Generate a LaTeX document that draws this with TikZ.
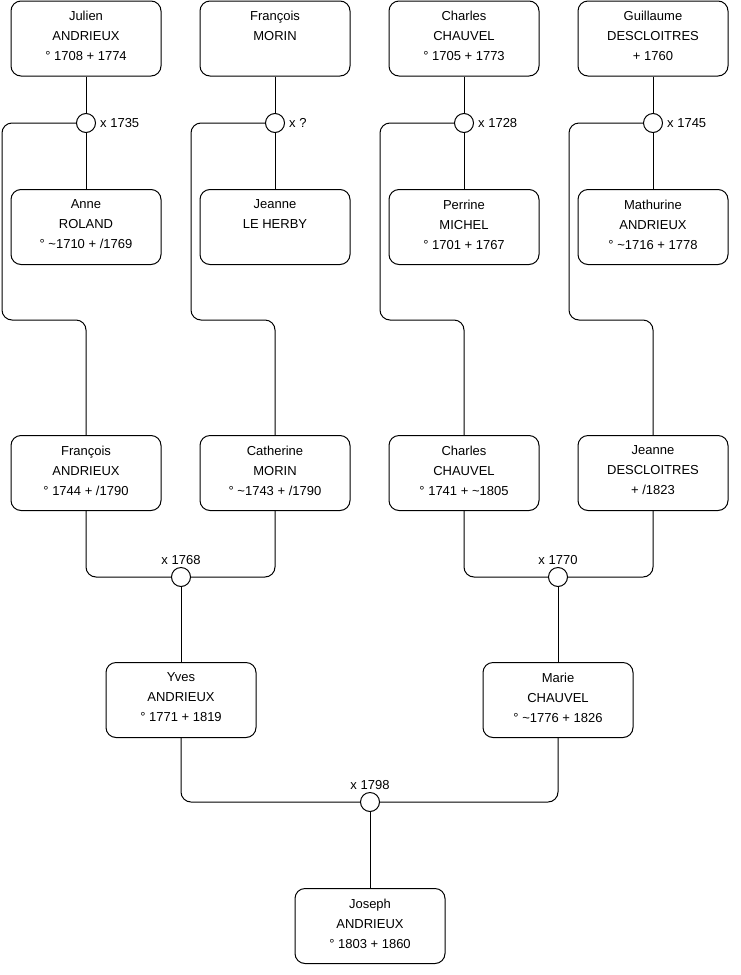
\documentclass[tikz,border=0pt]{standalone}
\usepackage{fontspec}
\setmainfont{Liberation Sans}
\usetikzlibrary{positioning}

\begin{document}
\begin{tikzpicture}[
    x=1pt, y=-1pt,
    every node/.style={font=\fontsize{13}{20}\selectfont},
    person/.style={draw, rounded corners=10pt, line width=1pt, fill=white,
                   minimum width=150pt, minimum height=75pt, align=center,
                   inner sep=0pt, text depth=5pt},
    wed/.style={draw, circle, line width=1pt, fill=white, minimum size=19pt, inner sep=0pt},
    wedlbl/.style={inner sep=1pt},
    link/.style={line width=1pt, rounded corners=10pt},
]
\useasboundingbox (0,0) rectangle (740,975);

% grandparents' parents
\node[person] (julien)    at (86,38.5)  {Julien\\ANDRIEUX\\° 1708 + 1774};
\node[person] (francoisM) at (275,38.5) {François\\MORIN\\\mbox{}};
\node[person] (charlesC)  at (464,38.5) {Charles\\CHAUVEL\\° 1705 + 1773};
\node[person] (guillaume) at (653,38.5) {Guillaume\\DESCLOITRES\\+ 1760};

\node[person] (anne)      at (86,227)  {Anne\\ROLAND\\° \textasciitilde1710 + /1769};
\node[person] (jeanneLH)  at (275,227) {Jeanne\\LE HERBY\\\mbox{}};
\node[person] (perrine)   at (464,227) {Perrine\\MICHEL\\° 1701 + 1767};
\node[person] (mathurine) at (653,227) {Mathurine\\ANDRIEUX\\° \textasciitilde1716 + 1778};

\node[wed] (m1735) at (86,123)  {};
\node[wed] (m1q)   at (275,123) {};
\node[wed] (m1728) at (464,123) {};
\node[wed] (m1745) at (653,123) {};
\node[wedlbl, right=3pt of m1735] (t1735) {x 1735};
\node[wedlbl, right=3pt of m1q]   (tq)    {x ?};
\node[wedlbl, right=3pt of m1728] (t1728) {x 1728};
\node[wedlbl, right=3pt of m1745] (t1745) {x 1745};

% grandparents
\node[person] (francois)  at (86,473)  {François\\ANDRIEUX\\° 1744 + /1790};
\node[person] (catherine) at (275,473) {Catherine\\MORIN\\° \textasciitilde1743 + /1790};
\node[person] (charles)   at (464,473) {Charles\\CHAUVEL\\° 1741 + \textasciitilde1805};
\node[person] (jeanne)    at (653,473) {Jeanne\\DESCLOITRES\\+ /1823};

\node[wed] (m1768) at (181,577) {};
\node[wed] (m1770) at (558,577) {};
\node[wedlbl, above=1pt of m1768] (t1768) {x 1768};
\node[wedlbl, above=1pt of m1770] (t1770) {x 1770};

% parents
\node[person] (yves)  at (181,700) {Yves\\ANDRIEUX\\° 1771 + 1819};
\node[person] (marie) at (558,700) {Marie\\CHAUVEL\\° \textasciitilde1776 + 1826};

\node[wed] (m1798) at (370,802) {};
\node[wedlbl, above=1pt of m1798] (t1798) {x 1798};

\node[person] (joseph) at (370,926) {Joseph\\ANDRIEUX\\° 1803 + 1860};

% links
\begin{scope}[on background layer/.try]
\draw[link] (julien) -- (m1735) -- (anne);
\draw[link] (francoisM) -- (m1q) -- (jeanneLH);
\draw[link] (charlesC) -- (m1728) -- (perrine);
\draw[link] (guillaume) -- (m1745) -- (mathurine);

\draw[link] (m1735.west) -| (2,320) -| (francois.north);
\draw[link] (m1q.west) -| (191,320) -| (catherine.north);
\draw[link] (m1728.west) -| (380,320) -| (charles.north);
\draw[link] (m1745.west) -| (569,320) -| (jeanne.north);

\draw[link] (francois.south) |- (m1768.west);
\draw[link] (catherine.south) |- (m1768.east);
\draw[link] (m1768) -- (yves);
\draw[link] (charles.south) |- (m1770.west);
\draw[link] (jeanne.south) |- (m1770.east);
\draw[link] (m1770) -- (marie);

\draw[link] (yves.south) |- (m1798.west);
\draw[link] (marie.south) |- (m1798.east);
\draw[link] (m1798) -- (joseph);
\end{scope}
\end{tikzpicture}
\end{document}
